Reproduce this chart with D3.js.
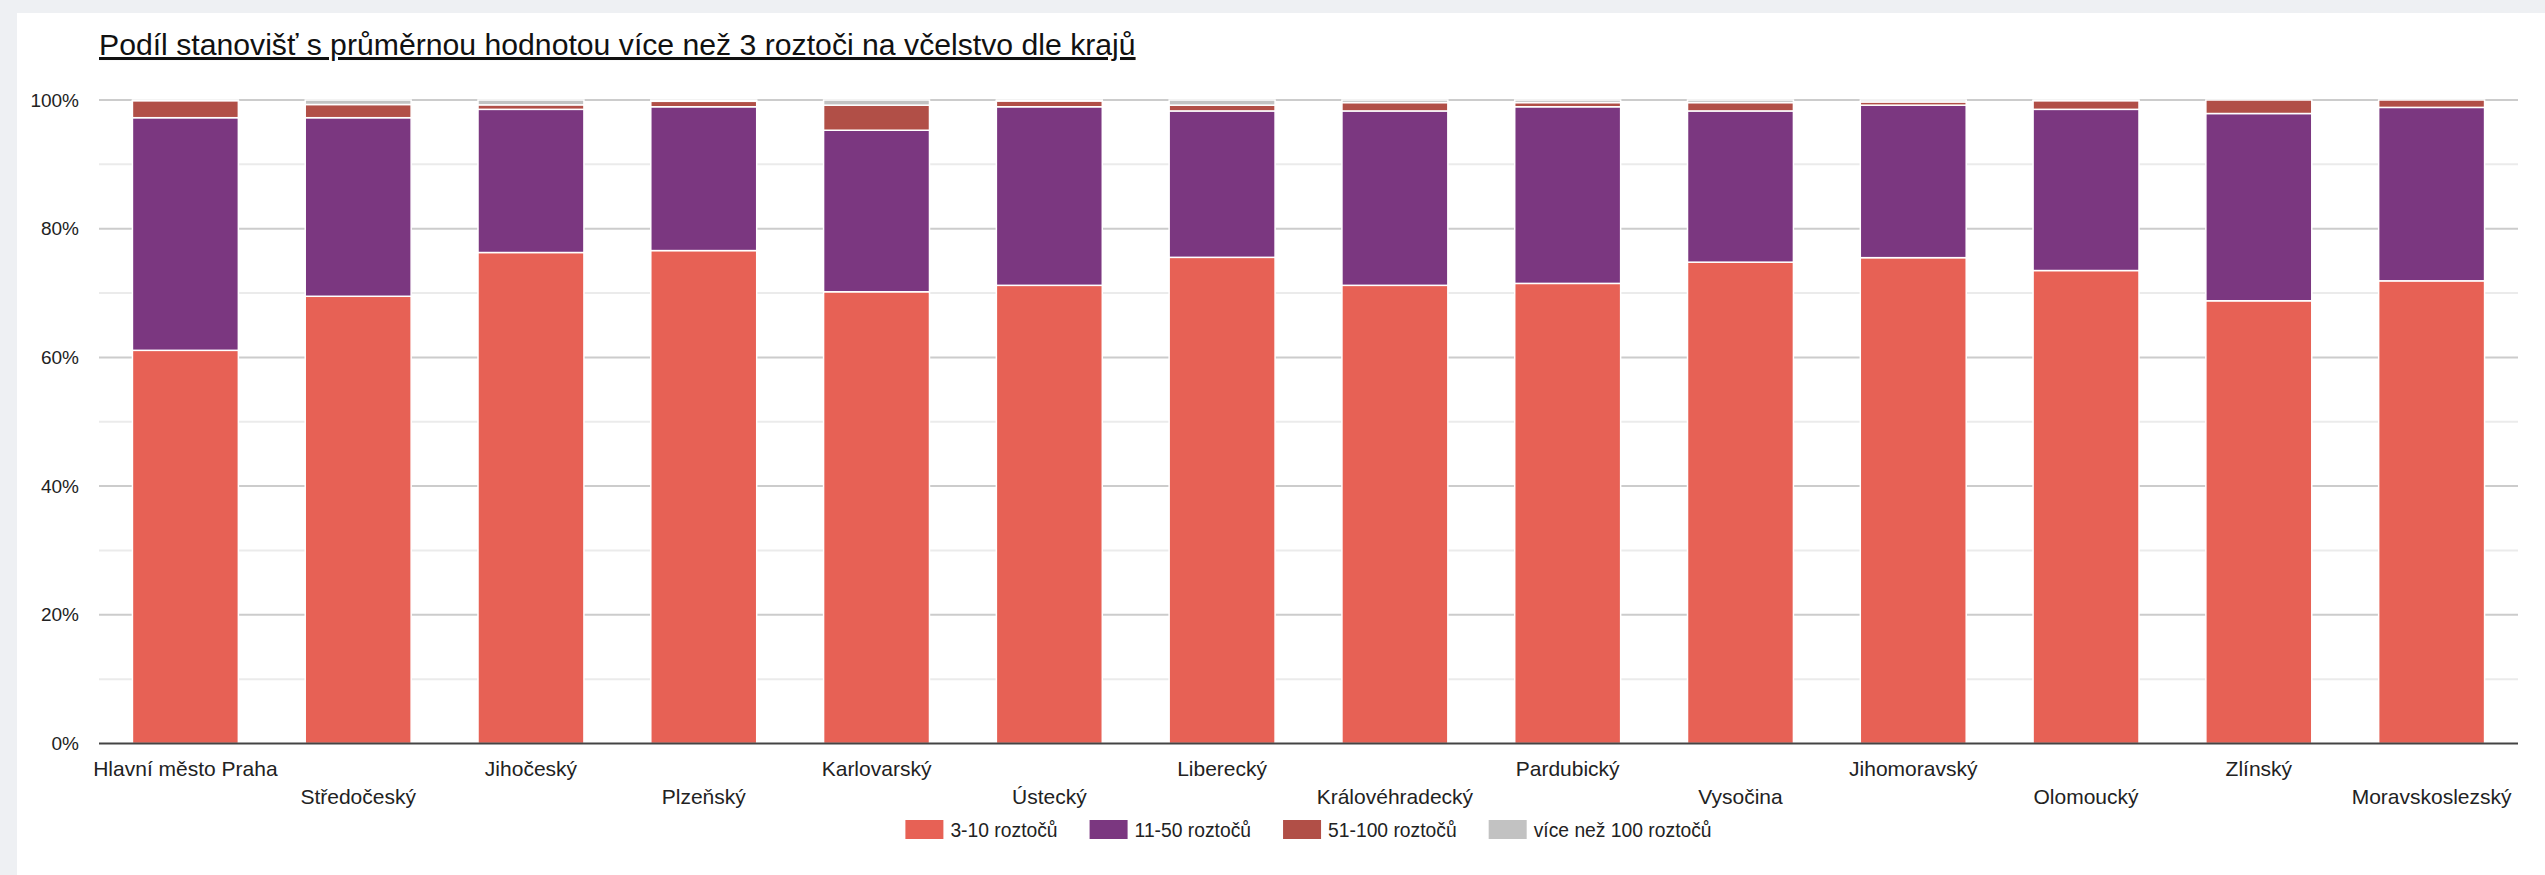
<!DOCTYPE html>
<html>
<head>
<meta charset="utf-8">
<script src="https://cdn.jsdelivr.net/npm/d3@7"></script>
<style>
  html, body { margin: 0; padding: 0; background: #eef0f3; }
  svg { display: block; }
  text { font-family: "Liberation Sans", Arial, Helvetica, sans-serif; }
</style>
</head>
<body>
<script>
const title = "Podíl stanovišť s průměrnou hodnotou více než 3 roztoči na včelstvo dle krajů";
const categories = ["Hlavní město Praha","Středočeský","Jihočeský","Plzeňský","Karlovarský","Ústecký","Liberecký","Královéhradecký","Pardubický","Vysočina","Jihomoravský","Olomoucký","Zlínský","Moravskoslezský"];
const seriesNames = ["3-10 roztočů","11-50 roztočů","51-100 roztočů","více než 100 roztočů"];
const s3to10   = [61.1, 69.5, 76.3, 76.6, 70.2, 71.2, 75.55, 71.2, 71.5, 74.8, 75.5, 73.5, 68.8, 71.9];
const s11to50  = [36.15, 27.75, 22.25, 22.35, 25.1, 27.75, 22.75, 27.1, 27.45, 23.5, 23.7, 25.05, 29.1, 26.95];
const s51to100 = [2.65, 2.05, 0.7, 0.85, 3.9, 0.9, 0.9, 1.3, 0.65, 1.3, 0.5, 1.35, 2.1, 1.15];
const sOver100 = [0.1, 0.7, 0.75, 0.2, 0.8, 0.15, 0.8, 0.4, 0.4, 0.4, 0.3, 0.1, 0, 0];
const yTicks = [0, 0.2, 0.4, 0.6, 0.8, 1.0];
const yMinor = [0.1, 0.3, 0.5, 0.7, 0.9];
const colors = ["#e76155", "#7b3780", "#b14f47", "#c2c2c2"];

(function () {
const W = 2545, H = 875;
const pLeft = 99, pRight = 2518, pTop = 100, pBottom = 743.5;

const svg = d3.select("body").append("svg").attr("width", W).attr("height", H);
svg.append("rect").attr("x", 17).attr("y", 13).attr("width", W - 17).attr("height", H - 13).attr("fill", "#ffffff");

svg.append("text").attr("x", 99).attr("y", 55)
  .attr("font-size", 30.2).attr("fill", "#111")
  .style("text-decoration", "underline")
  .text(title);

const keys = ["a","b","c","d"];
const rows = categories.map((c, i) => ({cat: c, a: s3to10[i]/100, b: s11to50[i]/100, c: s51to100[i]/100, d: sOver100[i]/100}));
const stack = d3.stack().keys(keys)(rows);

const x = d3.scaleBand().domain(categories).range([pLeft, pRight]).paddingInner(0.387).paddingOuter(0.1935);
const y = d3.scaleLinear().domain([0, 1]).range([pBottom, pTop]);

const g = svg.append("g");
g.selectAll(".minor").data(yMinor).join("line")
  .attr("x1", pLeft).attr("x2", pRight)
  .attr("y1", d => y(d)).attr("y2", d => y(d))
  .attr("stroke", "#ebebeb").attr("stroke-width", 2);
g.selectAll(".major").data(yTicks.filter(d => d > 0)).join("line")
  .attr("x1", pLeft).attr("x2", pRight)
  .attr("y1", d => y(d)).attr("y2", d => y(d))
  .attr("stroke", "#cccccc").attr("stroke-width", 2);

svg.append("g").selectAll("g").data(stack).join("g")
  .attr("fill", (d, i) => colors[i])
  .selectAll("rect").data(d => d.filter(p => p[1] - p[0] > 0)).join("rect")
  .attr("x", d => x(d.data.cat))
  .attr("width", x.bandwidth())
  .attr("y", d => y(d[1]))
  .attr("height", d => y(d[0]) - y(d[1]))
  .attr("stroke", "#ffffff").attr("stroke-width", 1.5);

svg.append("line").attr("x1", pLeft).attr("x2", pRight).attr("y1", y(0)).attr("y2", y(0))
  .attr("stroke", "#444").attr("stroke-width", 2);

const yAxis = svg.append("g").attr("transform", `translate(${pLeft},0)`)
  .call(d3.axisLeft(y).tickValues(yTicks).tickFormat(d3.format(".0%")).tickSize(0).tickPadding(20));
yAxis.select(".domain").remove();
yAxis.selectAll("text").attr("font-size", 19).attr("fill", "#222").style("font-family", '"Liberation Sans", Arial, sans-serif');

const xAxis = svg.append("g").attr("transform", `translate(0,${pBottom})`)
  .call(d3.axisBottom(x).tickSize(0).tickPadding(0));
xAxis.select(".domain").remove();
xAxis.selectAll("text")
  .attr("font-size", 21).attr("fill", "#222").style("font-family", '"Liberation Sans", Arial, sans-serif')
  .attr("dy", null)
  .attr("y", (d, i) => i % 2 === 0 ? 32.5 : 60.5);

const legend = svg.append("g");
const items = legend.selectAll("g").data(seriesNames).join("g");
items.append("rect").attr("width", 38).attr("height", 19).attr("y", 820)
  .attr("fill", (d, i) => colors[i]);
items.append("text").attr("x", 45).attr("y", 837).attr("font-size", 19.3).attr("fill", "#222").text(d => d);
const offsets = []; let cur = 0;
items.each(function (d, i) {
  const w = 45 + d3.select(this).select("text").node().getComputedTextLength();
  offsets.push(cur);
  cur += w + 32;
});
const totalW = cur - 32;
const start = (pLeft + pRight) / 2 - totalW / 2;
items.attr("transform", (d, i) => `translate(${start + offsets[i]},0)`);
})();
</script>
</body>
</html>
